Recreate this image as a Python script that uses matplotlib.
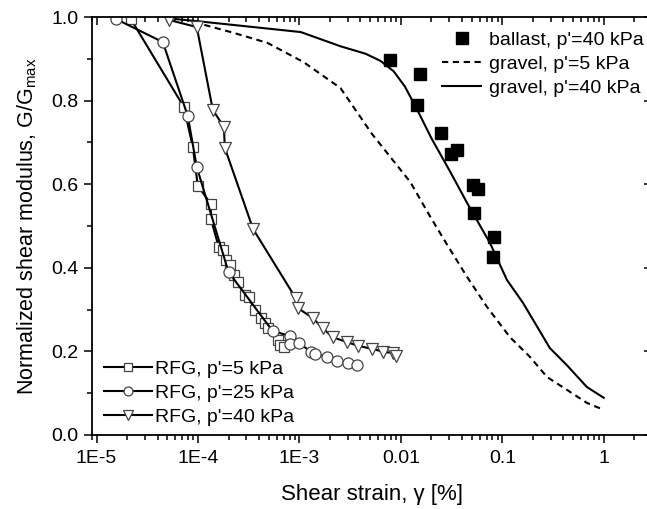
import matplotlib
matplotlib.use("Agg")
import matplotlib.pyplot as plt
from matplotlib.ticker import MultipleLocator, LogLocator, FixedFormatter, FixedLocator, NullFormatter

plt.rcParams['font.family'] = ['Liberation Sans', 'DejaVu Sans']
plt.rcParams['mathtext.default'] = 'regular'

# gravel model curves
gravel5_x = [9.1e-5, 2.25e-4, 4.85e-4, 1.1e-3, 2.54e-3, 5.2e-3, 0.0124, 0.0195, 0.0286, 0.045,
             0.0708, 0.119, 0.187, 0.275, 0.433, 0.68, 1.0]
gravel5_y = [0.988, 0.962, 0.938, 0.892, 0.830, 0.72, 0.605, 0.522, 0.455, 0.378,
             0.306, 0.234, 0.187, 0.139, 0.108, 0.077, 0.060]

gravel40_x = [6.05e-5, 9.9e-5, 1.03e-3, 2.54e-3, 4.5e-3, 6.3e-3, 8.5e-3, 0.0110, 0.0145, 0.0200,
              0.0306, 0.045, 0.0757, 0.111, 0.16, 0.294, 0.433, 0.68, 1.0]
gravel40_y = [0.995, 0.99, 0.964, 0.930, 0.912, 0.895, 0.870, 0.833, 0.778, 0.710,
              0.630, 0.555, 0.459, 0.371, 0.316, 0.208, 0.167, 0.115, 0.089]

# ballast test data
ballast_x = [0.00787, 0.0155, 0.0145, 0.0250, 0.0313, 0.0359, 0.0515, 0.0577, 0.0527, 0.0828, 0.0811]
ballast_y = [0.897, 0.864, 0.789, 0.722, 0.672, 0.682, 0.598, 0.589, 0.531, 0.474, 0.426]

# RFG data
rfg5_x = [2.18e-5, 7.25e-5, 8.9e-5, 9.96e-5, 1.34e-4, 1.34e-4, 1.6e-4, 1.75e-4, 1.88e-4, 2.06e-4,
          2.25e-4, 2.46e-4, 2.88e-4, 3.16e-4, 3.62e-4, 4.2e-4, 4.6e-4, 4.9e-4, 6.1e-4, 6.5e-4, 6.98e-4]
rfg5_y = [0.995, 0.785, 0.689, 0.596, 0.553, 0.517, 0.450, 0.443, 0.419, 0.407,
          0.383, 0.366, 0.335, 0.330, 0.299, 0.280, 0.268, 0.256, 0.227, 0.215, 0.211]

rfg25_x = [1.56e-5, 4.5e-5, 7.94e-5, 9.73e-5, 2.0e-4, 5.43e-4, 8.0e-4, 8.1e-4, 1.0e-3, 1.29e-3,
           1.44e-3, 1.89e-3, 2.37e-3, 3.04e-3, 3.7e-3]
rfg25_y = [0.995, 0.940, 0.763, 0.641, 0.390, 0.249, 0.237, 0.218, 0.220, 0.199,
           0.194, 0.187, 0.177, 0.172, 0.167]

rfg40_x = [5.16e-5, 9.73e-5, 1.40e-4, 1.80e-4, 1.84e-4, 3.49e-4, 9.16e-4, 9.6e-4, 1.35e-3, 1.69e-3,
           2.12e-3, 2.97e-3, 3.82e-3, 5.24e-3, 6.7e-3, 8.4e-3, 9.0e-3]
rfg40_y = [0.993, 0.976, 0.778, 0.737, 0.687, 0.493, 0.328, 0.304, 0.280, 0.256,
           0.234, 0.222, 0.213, 0.206, 0.199, 0.196, 0.189]

xticks = [1e-5, 1e-4, 1e-3, 1e-2, 1e-1, 1]
xticklabels = ['1E-5', '1E-4', '1E-3', '0.01', '0.1', '1']

fig = plt.figure(figsize=(6.47, 5.09), dpi=100)
ax = fig.add_axes([0.1420, 0.1454, 0.866, 0.8212])

g5, = ax.plot(gravel5_x, gravel5_y, color='black', lw=1.5, ls=(0, (3, 2.2)))
g40, = ax.plot(gravel40_x, gravel40_y, color='black', lw=1.5)
bal, = ax.plot(ballast_x, ballast_y, ls='none', marker='s', ms=8.5, color='black')

mk = dict(color='black', lw=1.5, mfc='white', mec='#444444', mew=0.9)
r5, = ax.plot(rfg5_x, rfg5_y, marker='s', ms=7, **mk)
r25, = ax.plot(rfg25_x, rfg25_y, marker='o', ms=8, **mk)
r40, = ax.plot(rfg40_x, rfg40_y, marker='v', ms=9, **mk)

ax.set_xscale('log')
ax.set_xlim(9e-6, 3)
ax.set_ylim(0, 1.0)

ax.xaxis.set_major_locator(FixedLocator(xticks))
ax.xaxis.set_major_formatter(FixedFormatter(xticklabels))
ax.xaxis.set_minor_locator(LogLocator(base=10, subs=range(2, 10)))
ax.xaxis.set_minor_formatter(NullFormatter())
ax.yaxis.set_major_locator(MultipleLocator(0.2))
ax.yaxis.set_minor_locator(MultipleLocator(0.1))
ax.yaxis.set_major_formatter(plt.FuncFormatter(lambda v, p: '%.1f' % v))

ax.tick_params(which='both', direction='out', labelsize=14, width=1.1, colors='black')
ax.tick_params(which='major', length=6)
ax.tick_params(which='minor', length=3.5)
ax.tick_params(axis='x', pad=5)
ax.tick_params(which='both', top=True, right=True)
for t in ax.xaxis.get_major_ticks() + ax.xaxis.get_minor_ticks():
    t.tick2line.set_marker(3)  # inward top ticks
for t in ax.yaxis.get_major_ticks() + ax.yaxis.get_minor_ticks():
    t.tick2line.set_marker(0)  # inward right ticks
for s in ax.spines.values():
    s.set_linewidth(1.3)

ax.set_xlabel('Shear strain, γ [%]', fontsize=16, labelpad=12)
ax.set_ylabel('Normalized shear modulus, G/G$_{max}$', fontsize=15.5, labelpad=9)

leg1 = ax.legend([bal, g5, g40], ["ballast, p'=40 kPa", "gravel, p'=5 kPa", "gravel, p'=40 kPa"],
                 loc='upper right', bbox_to_anchor=(1.013, 0.962), bbox_transform=fig.transFigure,
                 frameon=False, fontsize=14, handlelength=2.0, handletextpad=0.4,
                 labelspacing=0.33, borderpad=0.1)
ax.add_artist(leg1)
ax.legend([r5, r25, r40], ["RFG, p'=5 kPa", "RFG, p'=25 kPa", "RFG, p'=40 kPa"],
          loc='lower left', bbox_to_anchor=(0.142, 0.14), bbox_transform=fig.transFigure,
          frameon=False, fontsize=14, handlelength=2.5, handletextpad=0.15,
          labelspacing=0.33, borderpad=0.1, markerscale=0.8)

fig.savefig('out.png', dpi=100)
